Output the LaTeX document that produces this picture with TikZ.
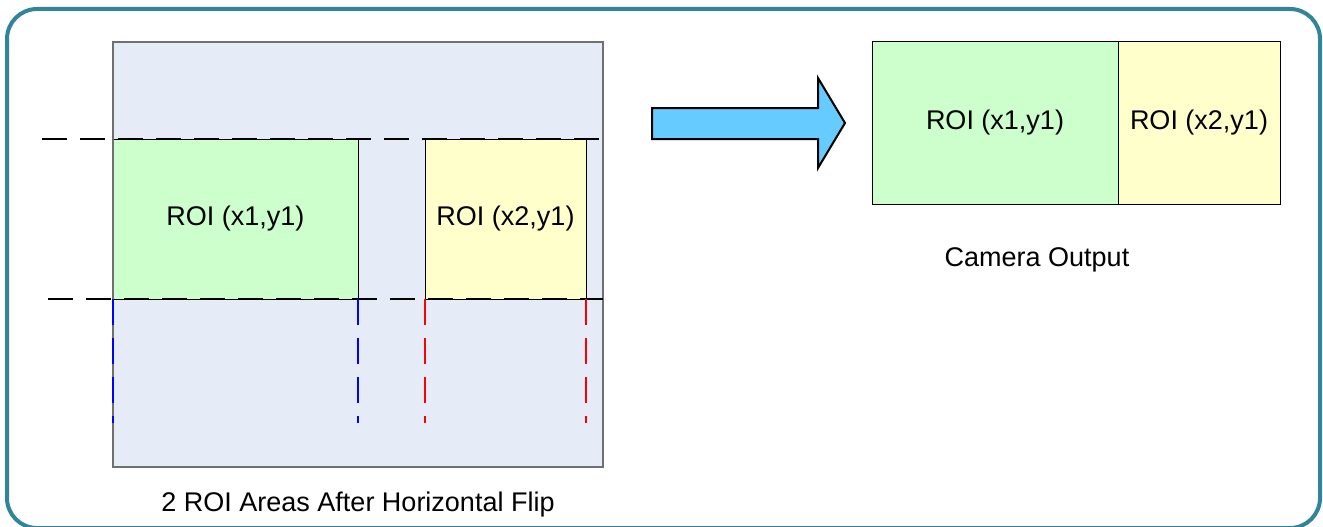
\documentclass[tikz,border=0pt]{standalone}
\usepackage{fontspec}
\setmainfont{Liberation Sans}
\definecolor{frame}{RGB}{49,133,155}
\definecolor{sensor}{RGB}{230,236,247}
\definecolor{roigreen}{RGB}{204,255,204}
\definecolor{roiyellow}{RGB}{255,255,204}
\definecolor{arrowblue}{RGB}{102,204,255}
\definecolor{boxgray}{RGB}{112,112,112}
\begin{document}
\begin{tikzpicture}[x=1pt,y=-1pt,
  box/.style={inner sep=0pt,outer sep=0pt,anchor=north west},
  roibox/.style={box,draw=black,line width=1pt},
  lbl/.style={font=\fontsize{27}{31}\selectfont},
  hdash/.style={draw=black,line width=1.5pt,dash pattern=on 25pt off 13pt},
  vdash/.style={line width=1.5pt,dash pattern=on 26pt off 13pt}]
\useasboundingbox (0,0) rectangle (1323,527);
\clip (0,0) rectangle (1323,527);
\draw[frame,line width=4pt,rounded corners=30pt] (7,9) rectangle (1320,528);
% sensor area
\node[box,draw=boxgray,line width=1.5pt,fill=sensor,minimum width=490pt,minimum height=425pt] (sensor) at (113,42) {};
\node[roibox,fill=roigreen,minimum width=245pt,minimum height=160pt] (roi1) at (113,139) {};
\node[roibox,fill=roiyellow,minimum width=161pt,minimum height=160pt] (roi2) at (425,139) {};
\node[lbl] at (roi1.center) {ROI (x1,y1)};
\node[lbl] at (roi2.center) {ROI (x2,y1)};
\draw[boxgray,line width=1.5pt] (sensor.north west) -- (sensor.south west);
% dashed guide lines
\coordinate (t0) at (42,139);
\coordinate (b0) at (48,299);
\draw[hdash] (t0) -- (sensor.east |- roi1.north);
\draw[hdash] (b0) -- (sensor.east |- roi1.south);
\coordinate (v1) at (113,423);
\coordinate (v2) at (358,423);
\coordinate (v3) at (425,423);
\coordinate (v4) at (586,423);
\draw[vdash,blue] (roi1.south west) -- (v1);
\draw[vdash,blue] (roi1.south east) -- (v2);
\draw[vdash,red] (roi2.south west) -- (v3);
\draw[vdash,red] (roi2.south east) -- (v4);
\node[lbl] (cap1) at (358,505) {2 ROI Areas After Horizontal Flip};
% block arrow
\draw[fill=arrowblue,draw=black,line width=2pt,line join=miter]
  (652,108) -- (818,108) -- (818,78) -- (845,123) -- (818,168) -- (818,139) -- (652,139) -- cycle;
% camera output
\node[roibox,fill=roigreen,minimum width=246pt,minimum height=162pt] (out1) at (872,42) {};
\node[roibox,fill=roiyellow,minimum width=162pt,minimum height=162pt] (out2) at (1118,42) {};
\node[lbl] at (out1.center) {ROI (x1,y1)};
\node[lbl] at (out2.center) {ROI (x2,y1)};
\node[lbl] (cap2) at (1037,260) {Camera Output};
\end{tikzpicture}
\end{document}
